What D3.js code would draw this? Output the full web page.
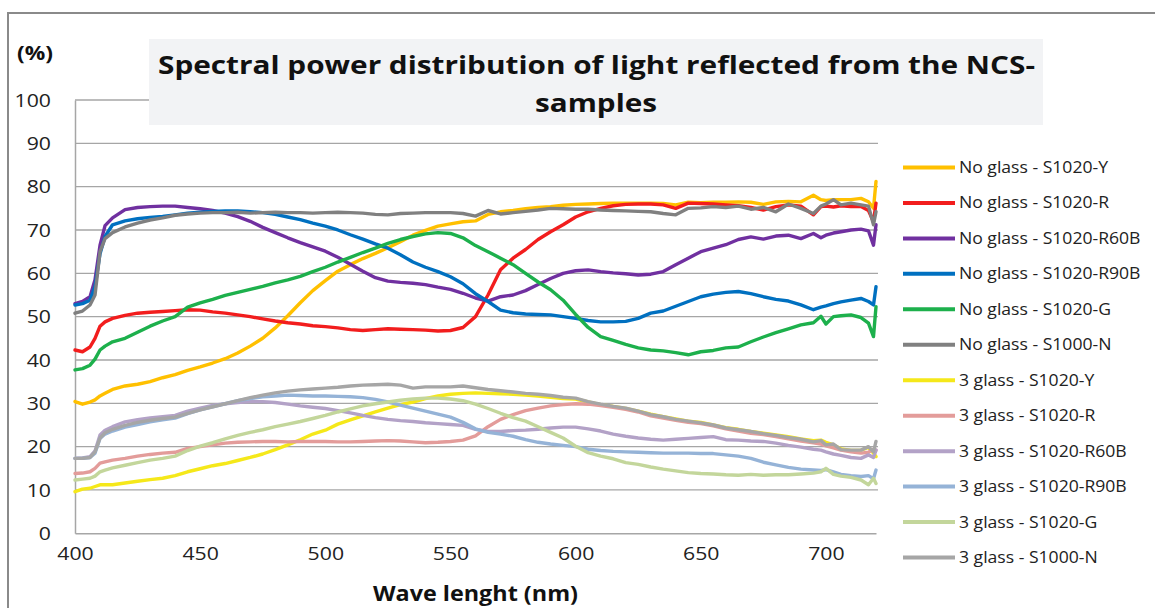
<!DOCTYPE html>
<html>
<head>
<meta charset="utf-8">
<script src="https://cdn.jsdelivr.net/npm/d3@7"></script>
<style>
  html, body { margin: 0; padding: 0; background: #fff; }
  svg { display: block; font-family: "Open Sans", "Noto Sans", sans-serif; }
</style>
</head>
<body>
<svg id="chart" width="1155" height="608"></svg>
<script>
// ---------------- DATA ----------------
const wavelengths = [400,403,406,408,410,412,415,420,425,430,435,440,445,450,455,460,465,470,475,480,485,490,495,500,505,510,515,520,525,530,535,540,545,550,555,560,565,570,575,580,585,590,595,600,605,610,615,620,625,630,635,640,645,650,655,660,665,670,675,680,685,690,695,698,700,703,706,710,714,717,719,720];

const noGlassY = [30.4,29.8,30.3,30.8,31.7,32.3,33.2,34,34.4,35,35.9,36.6,37.6,38.4,39.3,40.3,41.6,43.2,45,47.4,50.2,53.2,56,58.3,60.5,62,63.4,64.6,65.9,67.3,68.8,69.9,70.9,71.4,71.9,72.1,73.6,74.2,74.5,74.9,75.2,75.4,75.7,75.9,76,76.1,76.2,76.2,76.2,76.2,76.1,75.8,76.4,76.3,76.4,76.4,76.5,76.4,75.9,76.5,76.6,76.5,78,77,76.8,77,77,77,77.3,76.5,75,81.2];
const noGlassR = [42.3,41.9,43,45,47.8,48.8,49.6,50.3,50.8,51,51.2,51.4,51.6,51.5,51.1,50.8,50.4,50,49.5,49,48.6,48.3,47.9,47.7,47.4,47,46.8,47,47.2,47.1,47,46.9,46.7,46.8,47.5,50,55,60.8,63.5,65.5,67.8,69.6,71.2,73,74.2,75,75.6,75.9,76,76,75.8,75,76.2,76.1,76,75.8,75.6,75.2,74.6,75.4,75.8,75.5,73.5,75.4,75.5,75.3,75.6,75.4,75.4,74.5,71.9,76.2];
const noGlassR60B = [53,53.5,54.6,58.5,66.5,71,72.8,74.7,75.2,75.4,75.5,75.5,75.2,74.9,74.5,73.9,73.1,72,70.6,69.4,68.2,67.1,66.1,65.1,63.7,62.1,60.5,59,58.2,57.9,57.7,57.4,56.8,56.3,55.4,54.3,53.6,54.6,55,56,57.4,58.8,60,60.6,60.8,60.4,60.1,59.9,59.6,59.8,60.4,62,63.5,65,65.8,66.6,67.8,68.4,67.9,68.6,68.8,68,69.2,68.2,68.8,69.3,69.6,70,70.2,69.8,66.5,71.2];
const noGlassR90B = [52.7,53,53.8,57,64.5,68.5,71.2,72.1,72.6,72.9,73.1,73.5,73.9,74.1,74.3,74.4,74.4,74.2,74,73.6,73,72.4,71.6,70.9,70,68.9,67.9,66.8,65.8,64.3,62.6,61.4,60.4,59.2,57.6,55.3,53.5,51.5,50.9,50.6,50.5,50.4,50,49.6,49.1,48.8,48.8,48.9,49.6,50.8,51.3,52.4,53.5,54.6,55.2,55.6,55.8,55.3,54.6,54,53.6,52.7,51.6,52.2,52.5,53,53.4,53.8,54.2,53.5,52.7,56.9];
const noGlassG = [37.7,38,38.8,40.2,42.3,43.2,44.2,45,46.4,47.8,49,50,52.2,53.2,54,54.9,55.6,56.3,57,57.8,58.5,59.3,60.4,61.4,62.6,63.7,64.8,65.8,66.9,67.8,68.5,69.1,69.4,69.2,68.2,66.4,65,63.5,62,60,58,56.2,53.8,50.5,47.5,45.4,44.5,43.6,42.8,42.3,42.1,41.7,41.2,41.9,42.2,42.8,43,44.2,45.3,46.3,47.2,48.1,48.6,50.1,48.3,50,50.2,50.4,49.8,48.5,45.4,52.3];
const noGlassN = [50.8,51.3,52.7,55,65,68,69.4,70.7,71.6,72.3,72.8,73.4,73.7,73.9,74,74,74.1,73.9,74,74.1,74,74,73.9,74,74.1,74,73.9,73.6,73.5,73.8,73.9,74,74,74,73.8,73.2,74.5,73.7,74,74.3,74.6,75,74.9,74.8,74.8,74.6,74.5,74.4,74.3,74.2,73.8,73.5,75,75.1,75.4,75.2,75.5,74.8,75.2,74.2,76,75,73.8,75.5,76,77,75.8,76.2,75.8,75.5,71.2,74.2];

const glass3Y = [9.6,10.2,10.4,10.8,11.2,11.2,11.2,11.6,12,12.4,12.7,13.3,14.2,14.9,15.6,16.1,16.8,17.5,18.3,19.3,20.4,21.6,22.9,23.8,25.2,26.2,27.1,28,28.9,29.7,30.3,31.1,31.7,32.1,32.3,32.4,32.3,32.2,32.1,31.9,31.7,31.4,31.1,31,30.3,29.7,29.3,28.8,28.2,27.5,26.9,26.4,25.9,25.6,25,24.4,24,23.5,23.1,22.7,22.3,21.8,21.4,21.5,21,20.4,19.5,19.1,19.2,19.8,18.5,17.7];
const glass3R = [13.8,13.9,14.2,15,16.2,16.5,16.9,17.3,17.8,18.2,18.5,18.7,19.6,20,20.4,20.8,21,21.1,21.2,21.2,21.1,21.2,21.2,21.2,21.1,21.1,21.2,21.3,21.4,21.3,21.1,20.9,21,21.2,21.5,22.5,24.6,26.3,27.4,28.3,28.9,29.4,29.7,29.9,29.8,29.5,29.1,28.6,28,27.1,26.6,26.1,25.6,25.3,24.8,24.1,23.6,23.1,22.8,22.3,21.8,21.3,20.9,20.6,20.2,19.7,19.2,18.8,18.5,18.7,19.4,19.2];
const glass3R60B = [17.3,17.4,17.7,19,22.7,23.8,24.6,25.7,26.2,26.6,26.9,27.2,28.2,28.9,29.5,29.9,30.2,30.4,30.4,30.2,29.8,29.4,29.1,28.8,28.3,27.8,27.2,26.7,26.3,26,25.8,25.5,25.3,25.1,24.9,24,23.5,23.5,23.7,23.8,24,24.3,24.5,24.5,24.1,23.6,22.9,22.4,22,21.7,21.5,21.7,21.9,22.1,22.3,21.6,21.5,21.3,21.2,20.8,20.3,19.9,19.4,19.2,18.8,18.3,18,17.5,17.3,18.1,17.5,19.2];
const glass3R90B = [17.3,17.3,17.5,18.5,21.9,22.9,23.6,24.5,25.1,25.7,26.2,26.6,27.6,28.5,29.2,29.9,30.6,31.1,31.5,31.7,31.9,31.8,31.7,31.7,31.6,31.5,31.3,30.9,30.3,29.6,28.9,28.2,27.5,26.8,25.6,24.1,23.3,22.9,22.4,21.6,21,20.6,20.3,20,19.4,19.1,18.9,18.8,18.7,18.6,18.5,18.5,18.5,18.4,18.4,18.1,17.8,17.3,16.4,15.8,15.2,14.8,14.6,14.5,14.7,14.2,13.6,13.3,13.1,13.3,12.6,14.6];
const glass3G = [12.3,12.5,12.7,13.2,14.2,14.6,15.1,15.7,16.3,16.9,17.3,17.8,19.1,20.1,20.9,21.8,22.6,23.3,23.9,24.6,25.2,25.8,26.5,27.2,28,28.7,29.4,29.9,30.3,30.7,31,31.2,31.2,31,30.6,29.8,28.8,27.7,26.7,25.9,24.6,23.3,22,20.1,18.6,17.8,17.2,16.3,15.9,15.3,14.8,14.4,14,13.8,13.7,13.5,13.4,13.6,13.4,13.5,13.5,13.7,13.9,14.2,15,13.6,13.2,12.9,12.3,11.2,12.7,11.5];
const glass3N = [17.3,17.3,17.5,18.8,22,23.2,24,24.9,25.6,26.1,26.5,26.8,27.7,28.5,29.2,29.9,30.6,31.3,31.9,32.4,32.8,33.1,33.3,33.5,33.7,34,34.2,34.3,34.4,34.2,33.5,33.8,33.8,33.8,34,33.6,33.2,32.9,32.6,32.3,32.1,31.8,31.4,31.2,30.4,29.8,29.3,28.9,28.2,27.4,26.9,26.3,25.9,25.5,25,24.3,23.9,23.5,23,22.6,22.1,21.7,21.1,21.4,20.4,20.6,19.3,19.2,19.2,20,18.8,21.2];

const seriesNames = [
  "No glass - S1020-Y","No glass - S1020-R","No glass - S1020-R60B","No glass - S1020-R90B","No glass - S1020-G","No glass - S1000-N",
  "3 glass - S1020-Y","3 glass - S1020-R","3 glass - S1020-R60B","3 glass - S1020-R90B","3 glass - S1020-G","3 glass - S1000-N"
];
const seriesColors = ["#ffc000","#f21d1d","#7030a0","#0070c0","#1db04c","#808080",
                      "#f5e81a","#e39c9a","#b3a2c7","#95b3d7","#c3d69b","#a6a6a6"];
const seriesValues = [noGlassY,noGlassR,noGlassR60B,noGlassR90B,noGlassG,noGlassN,
                      glass3Y,glass3R,glass3R60B,glass3R90B,glass3G,glass3N];

const yTicks = [0,10,20,30,40,50,60,70,80,90,100];
const xTicks = [400,450,500,550,600,650,700];
const titleLines = ["Spectral power distribution of light reflected from the NCS-", "samples"];
const yAxisTitle = "(%)";
const xAxisTitle = "Wave lenght (nm)";

// ---------------- DRAW ----------------
const svg = d3.select("#chart");
const x = d3.scaleLinear().domain([400, 720]).range([75, 876]);
const y = d3.scaleLinear().domain([0, 100]).range([533.3, 100]);

// outer frame
svg.append("rect").attr("x", 8).attr("y", 13).attr("width", 1170).attr("height", 620)
  .attr("fill", "none").attr("stroke", "#8a8a8a").attr("stroke-width", 2);

// gridlines
svg.append("g").selectAll("line").data(yTicks.filter(d => d > 0)).join("line")
  .attr("x1", x(400)).attr("x2", x(720) + 2)
  .attr("y1", d => y(d)).attr("y2", d => y(d))
  .attr("stroke", "#a6a6a6").attr("stroke-width", 1.3);

// axes
const yAxis = d3.axisLeft(y).tickValues(yTicks).tickSize(0).tickPadding(24);
const gy = svg.append("g").attr("transform", `translate(${x(400)},0)`).call(yAxis);
gy.select(".domain").attr("stroke", "#a6a6a6").attr("stroke-width", 1.5);
gy.selectAll("text").attr("font-size", 18).attr("fill", "#222")
  .attr("font-family", "'Open Sans', sans-serif")
  .attr("transform", function() { return "scale(1.18,1)"; })
  .attr("x", -24 / 1.18).attr("dy", "0.35em");

const xAxis = d3.axisBottom(x).tickValues(xTicks).tickSize(0).tickPadding(14);
const gx = svg.append("g").attr("transform", `translate(0,${y(0)})`).call(xAxis);
gx.select(".domain").attr("stroke", "#a6a6a6").attr("stroke-width", 1.5);
gx.selectAll(".tick text").attr("font-size", 18).attr("fill", "#222")
  .attr("font-family", "'Open Sans', sans-serif")
  .attr("transform", "scale(1.18,1)").attr("y", 14);

// series lines
const line = d3.line().x((d, i) => x(wavelengths[i])).y(d => y(d));
svg.append("g").selectAll("path").data(seriesValues).join("path")
  .attr("d", d => line(d))
  .attr("fill", "none")
  .attr("stroke", (d, i) => seriesColors[i])
  .attr("stroke-width", 3.4)
  .attr("stroke-linejoin", "round")
  .attr("stroke-linecap", "round");

// title box
svg.append("rect").attr("x", 149).attr("y", 39).attr("width", 894).attr("height", 86)
  .attr("fill", "#f2f3f5");
svg.append("text").attr("x", 158).attr("y", 73.5)
  .attr("font-size", 25).attr("font-weight", "bold").attr("fill", "#111")
  .attr("textLength", 877).attr("lengthAdjust", "spacingAndGlyphs")
  .text(titleLines[0]);
svg.append("text").attr("x", 535).attr("y", 111.5)
  .attr("font-size", 25).attr("font-weight", "bold").attr("fill", "#111")
  .attr("textLength", 122).attr("lengthAdjust", "spacingAndGlyphs")
  .text(titleLines[1]);

// axis titles
svg.append("text").attr("x", 17).attr("y", 60)
  .attr("font-size", 19).attr("font-weight", "bold").attr("fill", "#111")
  .attr("textLength", 36).attr("lengthAdjust", "spacingAndGlyphs")
  .text(yAxisTitle);
svg.append("text").attr("x", 373).attr("y", 601)
  .attr("font-size", 22).attr("font-weight", "bold").attr("fill", "#111")
  .attr("textLength", 205).attr("lengthAdjust", "spacingAndGlyphs")
  .text(xAxisTitle);

// legend
const legend = svg.append("g");
const legY = d3.scaleLinear().domain([0, 11]).range([167.5, 557.5]);
const items = legend.selectAll("g").data(seriesNames).join("g")
  .attr("transform", (d, i) => `translate(903,${legY(i)})`);
items.append("line").attr("x1", 0).attr("x2", 52).attr("y1", 0).attr("y2", 0)
  .attr("stroke", (d, i) => seriesColors[i]).attr("stroke-width", 4);
items.append("text").attr("x", 56).attr("y", 5.5)
  .attr("font-size", 16).attr("fill", "#222")
  .attr("transform", "translate(56,0) scale(1.1,1) translate(-56,0)")
  .text(d => d);
</script>
</body>
</html>
